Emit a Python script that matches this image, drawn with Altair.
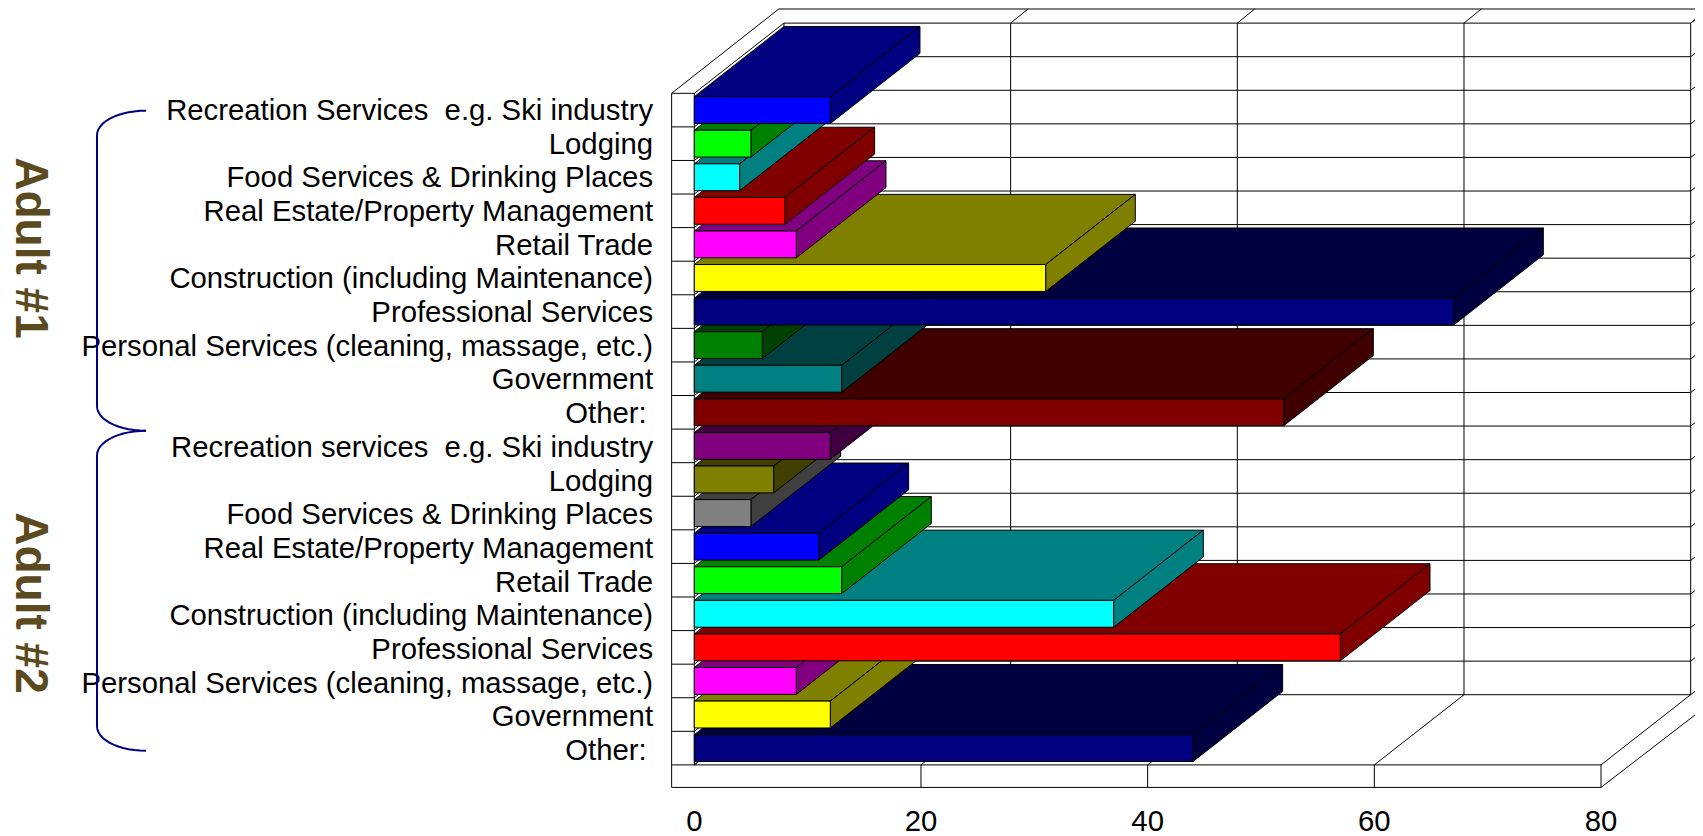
import altair as alt
import numpy as np
import pandas as pd

# ---- data (top row first) ----
categories = [
    "Recreation Services \u00a0e.g. Ski industry", "Lodging", "Food Services & Drinking Places",
    "Real Estate/Property Management", "Retail Trade", "Construction (including Maintenance)",
    "Professional Services", "Personal Services (cleaning, massage, etc.)", "Government", "Other:",
    "Recreation services \u00a0e.g. Ski industry", "Lodging", "Food Services & Drinking Places",
    "Real Estate/Property Management", "Retail Trade", "Construction (including Maintenance)",
    "Professional Services", "Personal Services (cleaning, massage, etc.)", "Government", "Other:",
]
values = [12, 5, 4, 8, 9, 31, 67, 6, 13, 52, 12, 7, 5, 11, 13, 37, 57, 9, 12, 44]
front_colors = ["#0000FF", "#00FF00", "#00FFFF", "#FF0000", "#FF00FF", "#FFFF00", "#000080", "#008000",
                "#008080", "#800000", "#800080", "#808000", "#808080", "#0000FF", "#00FF00", "#00FFFF",
                "#FF0000", "#FF00FF", "#FFFF00", "#000080"]
depth_colors = ["#000080", "#008000", "#008080", "#800000", "#800080", "#808000", "#000040", "#004000",
                "#004040", "#400000", "#400040", "#404000", "#404040", "#000080", "#008000", "#008080",
                "#800000", "#800080", "#808000", "#000040"]
x_ticks = [0, 20, 40, 60, 80]
groups = ["Adult #1", "Adult #2"]

# ---- layout in data units ----
W, H = 1687, 828
PX_PER_UNIT = 11.334
PX_PER_ROW = 33.58
X0_PAGE, R0_PAGE = 694.3, 93.3
xdom = [(8 - X0_PAGE) / PX_PER_UNIT, (8 + W - X0_PAGE) / PX_PER_UNIT]
rdom = [(8 - R0_PAGE) / PX_PER_ROW, (8 + H - R0_PAGE) / PX_PER_ROW]
DV, DR = 7.91, 2.09          # depth of the 3-D box
N = len(categories)

xs = alt.Scale(domain=xdom, nice=False, zero=False)
ys = alt.Scale(domain=rdom, reverse=True, nice=False, zero=False)
X = alt.X("x:Q", scale=xs, axis=None)
Y = alt.Y("y:Q", scale=ys, axis=None)

# ---- the box: walls, floor, grid ----
seg = []
def S(x1, y1, x2, y2):
    seg.append(dict(x=x1, y=y1, x2=x2, y2=y2))

for r in range(N + 1):
    S(DV, r - DR, 80 + DV, r - DR)
    S(0, r, DV, r - DR)
    S(-2, r, 0, r)
    S(80 + DV, r - DR, 80 + DV + 2, r - DR - 0.525)
for v in x_ticks:
    S(v + DV, -DR, v + DV, N - DR)
    S(v, N, v + DV, N - DR)
    if v > 0:
        S(v, N, v, N + 0.67)
        S(v + DV, -DR, v + DV + 1.55, -DR - 0.426)
S(0, 0, 0, N)
S(0, N, 80, N)
S(-2, 0, -2, N + 0.67)
S(-2, N + 0.67, 80, N + 0.67)
S(-2, 0, 7.45, -2.51)
S(7.45, -2.51, 90, -2.51)
S(80, N + 0.67, 89, N + 0.67 - 2.34)

grid = alt.Chart(pd.DataFrame(seg)).mark_rule(color="#000000", strokeWidth=1, clip=True).encode(
    x=X, y=Y, x2="x2:Q", y2="y2:Q")

# ---- bars: painted bottom row first so upper rows sit in front ----
layers = [grid]
for i in reversed(range(N)):
    v = values[i]
    t, b = i + 0.1, i + 0.9
    top = pd.DataFrame({"x": [0, DV], "x2": [v, v + DV], "y": [t, t - DR]})
    side = pd.DataFrame({"x": [v, v + DV], "y": [t, t - DR], "y2": [b, b - DR]})
    front = pd.DataFrame({"x": [0], "x2": [v], "y": [t], "y2": [b]})
    layers.append(alt.Chart(top).mark_area(orient="horizontal", color=depth_colors[i], stroke="black",
                                           strokeWidth=1, opacity=1).encode(x=X, x2="x2:Q", y=Y))
    layers.append(alt.Chart(side).mark_area(orient="vertical", color=depth_colors[i], stroke="black",
                                            strokeWidth=1, opacity=1).encode(x=X, y=Y, y2="y2:Q"))
    layers.append(alt.Chart(front).mark_rect(color=front_colors[i], stroke="black",
                                             strokeWidth=1, opacity=1).encode(x=X, x2="x2:Q", y=Y, y2="y2:Q"))

# ---- text ----
cat_df = pd.DataFrame({"x": [-4.2 if c == "Other:" else -3.64 for c in categories],
                       "y": [i * 1.0028 + 0.53 for i in range(N)], "t": categories, "i": range(N)})
FONT = "Liberation Sans"
FS = 29.3
layers.append(alt.Chart(cat_df).mark_text(align="right", baseline="middle", font=FONT, fontSize=FS,
                                          color="black").encode(x=X, y=Y, text="t:N", detail="i:Q"))
tick_df = pd.DataFrame({"x": x_ticks, "y": 21.69, "t": [str(t) for t in x_ticks]})
layers.append(alt.Chart(tick_df).mark_text(align="center", baseline="middle", font=FONT, fontSize=FS,
                                           color="black").encode(x=X, y=Y, text="t:N"))
grp_df = pd.DataFrame({"x": (30 - X0_PAGE) / PX_PER_UNIT,
                       "y": [(248 - R0_PAGE) / PX_PER_ROW, (603 - R0_PAGE) / PX_PER_ROW], "t": groups})
layers.append(alt.Chart(grp_df).mark_text(align="center", baseline="middle", font=FONT,
                                          fontWeight="bold", fontSize=46, angle=90, color="#5A4A1E").encode(
    x=X, y=Y, text="t:N"))

# ---- braces ----
bx_line, bx_tip = (97 - X0_PAGE) / PX_PER_UNIT, (146 - X0_PAGE) / PX_PER_UNIT
bend = 24.5 / PX_PER_ROW
def brace(name, r0, r1):
    a = np.linspace(0, np.pi / 2, 14)
    xx = list(bx_tip - (bx_tip - bx_line) * np.sin(a)) + list(bx_line + (bx_tip - bx_line) * (1 - np.cos(a)))
    yy = list(r0 + bend * (1 - np.cos(a))) + list(r1 - bend + bend * np.sin(a))
    return pd.DataFrame({"x": xx, "y": yy, "k": range(len(xx)), "b": name})
bdf = pd.concat([brace("a", 0.518, 10.05), brace("b", 10.05, 19.58)])
layers.append(alt.Chart(bdf).mark_line(color="#000080", strokeWidth=2).encode(
    x=X, y=Y, order="k:Q", detail="b:N"))

chart = alt.layer(*layers).properties(
    width=W, height=H, padding=0, background="white",
    autosize=alt.AutoSizeParams(type="none"),
).configure_view(stroke=None)

chart.save("out.html", embed_options={"renderer": "svg", "actions": False})
